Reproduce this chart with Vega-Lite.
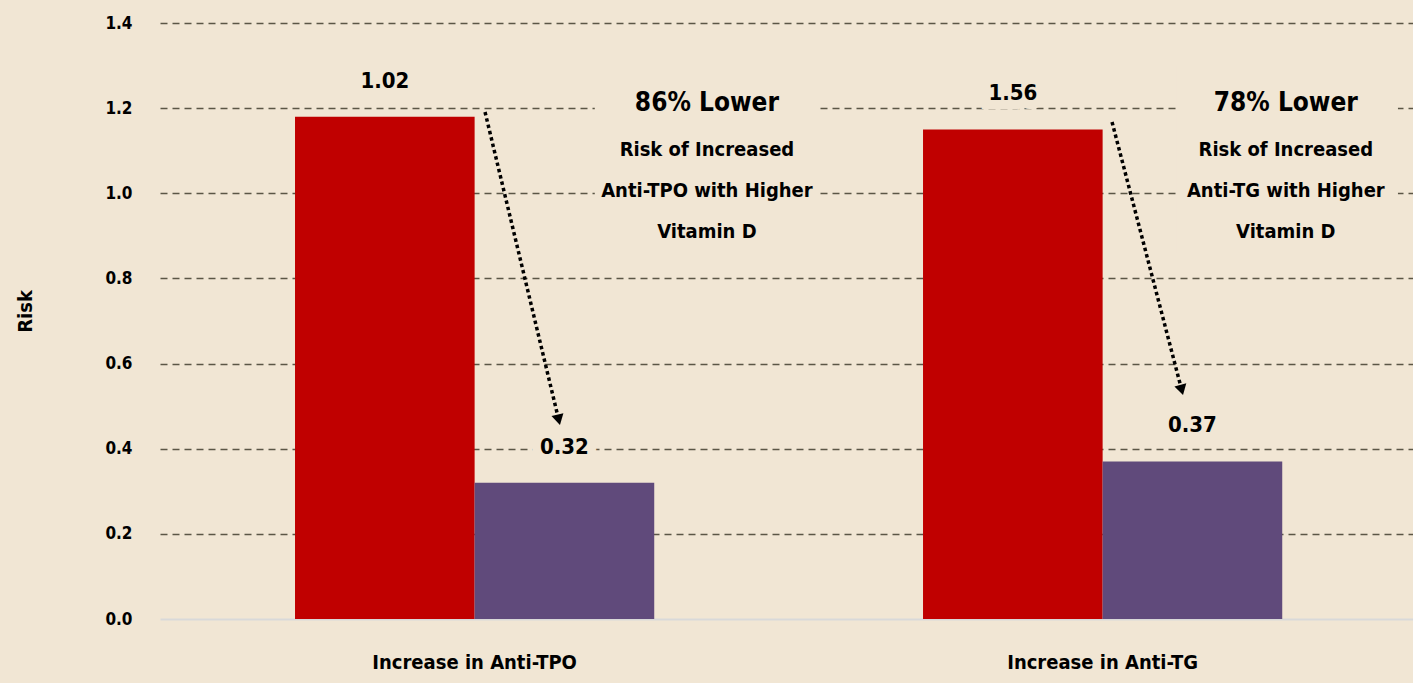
{
  "$schema": "https://vega.github.io/schema/vega-lite/v6.json",
  "width": 1253,
  "height": 596,
  "autosize": {"type": "none"},
  "padding": {"left": 160, "top": 23, "right": 0, "bottom": 64},
  "background": "#f1e6d4",
  "config": {
    "view": {"stroke": null},
    "font": "DejaVu Sans Condensed, sans-serif"
  },
  "datasets": {
    "bars": [
      {"group": "Increase in Anti-TPO", "series": "Lower vitamin D", "value": 1.18, "label": "1.02"},
      {"group": "Increase in Anti-TPO", "series": "Higher vitamin D", "value": 0.32, "label": "0.32"},
      {"group": "Increase in Anti-TG", "series": "Lower vitamin D", "value": 1.15, "label": "1.56"},
      {"group": "Increase in Anti-TG", "series": "Higher vitamin D", "value": 0.37, "label": "0.37"}
    ],
    "notes": [
      {"group": "Increase in Anti-TPO", "headline": "86% Lower", "body": "Risk of Increased\nAnti-TPO with Higher\nVitamin D"},
      {"group": "Increase in Anti-TG", "headline": "78% Lower", "body": "Risk of Increased\nAnti-TG with Higher\nVitamin D"}
    ]
  },
  "layer": [
    {
      "data": {"name": "bars"},
      "encoding": {
        "x": {
          "field": "group", "type": "nominal", "sort": null,
          "scale": {"paddingInner": 0.428, "paddingOuter": 0.2116, "align": 0.508},
          "axis": {
            "title": null, "labelAngle": 0, "labelFontSize": 20, "labelFontWeight": "bold",
            "labelColor": "#000000", "labelPadding": 33, "labelLimit": 0, "ticks": false,
            "domainColor": "#d9d9d9", "domainWidth": 2
          }
        },
        "xOffset": {"field": "series", "type": "nominal", "sort": null, "scale": {"paddingInner": 0, "paddingOuter": 0}},
        "y": {
          "field": "value", "type": "quantitative",
          "scale": {"domain": [0, 1.4], "nice": false},
          "axis": {
            "title": "Risk", "values": [0, 0.2, 0.4, 0.6, 0.8, 1.0, 1.2, 1.4], "format": ".1f",
            "labelFontSize": 17, "labelFontWeight": "bold", "labelColor": "#000000",
            "labelPadding": 28, "ticks": false, "domain": false,
            "gridColor": "#5b5646", "gridDash": [7, 5], "gridWidth": 1.5,
            "gridOpacity": {"condition": {"test": "datum.value === 0", "value": 0}, "value": 1},
            "titleFontSize": 20, "titleFontWeight": "bold", "titleColor": "#000000",
            "titleX": -125, "titleY": 288
          }
        }
      },
      "layer": [
        {
          "mark": {"type": "bar"},
          "encoding": {
            "color": {"field": "series", "type": "nominal", "sort": null, "scale": {"range": ["#c00000", "#604a7b"]}, "legend": null}
          }
        },
        {
          "mark": {"type": "text", "dy": -36, "fontSize": 22, "fontWeight": "bold", "stroke": "#f1e6d4", "strokeWidth": 18, "fill": "#f1e6d4"},
          "encoding": {"text": {"field": "label"}}
        },
        {
          "mark": {"type": "text", "dy": -36, "fontSize": 22, "fontWeight": "bold", "color": "#000000"},
          "encoding": {"text": {"field": "label"}}
        }
      ]
    },
    {
      "layer": [
        {
          "data": {"values": [{}]},
          "mark": {"type": "rect", "color": "#f1e6d4"},
          "encoding": {
            "x": {"datum": 0.694, "type": "quantitative", "scale": {"domain": [0, 2], "nice": false}, "axis": null},
            "x2": {"datum": 1.05},
            "y": {"datum": 0.86, "type": "quantitative"},
            "y2": {"datum": 1.3}
          }
        },
        {
          "data": {"values": [{}]},
          "mark": {"type": "rect", "color": "#f1e6d4"},
          "encoding": {
            "x": {"datum": 1.623, "type": "quantitative", "scale": {"domain": [0, 2], "nice": false}, "axis": null},
            "x2": {"datum": 1.976},
            "y": {"datum": 0.86, "type": "quantitative"},
            "y2": {"datum": 1.3}
          }
        },
        {
          "data": {"name": "notes"},
          "transform": [{"filter": "datum.group === 'Increase in Anti-TPO'"}],
          "mark": {"type": "text", "fontSize": 26, "fontWeight": "bold", "color": "#000000", "baseline": "middle"},
          "encoding": {
            "x": {"datum": 0.873, "type": "quantitative", "scale": {"domain": [0, 2], "nice": false}, "axis": null},
            "y": {"datum": 1.212, "type": "quantitative"},
            "text": {"field": "headline"}
          }
        },
        {
          "data": {"name": "notes"},
          "transform": [{"filter": "datum.group === 'Increase in Anti-TPO'"}],
          "mark": {"type": "text", "fontSize": 20, "fontWeight": "bold", "color": "#000000", "baseline": "middle", "lineBreak": "\n", "lineHeight": 41},
          "encoding": {
            "x": {"datum": 0.873, "type": "quantitative", "scale": {"domain": [0, 2], "nice": false}, "axis": null},
            "y": {"datum": 1.102, "type": "quantitative"},
            "text": {"field": "body"}
          }
        },
        {
          "data": {"name": "notes"},
          "transform": [{"filter": "datum.group === 'Increase in Anti-TG'"}],
          "mark": {"type": "text", "fontSize": 26, "fontWeight": "bold", "color": "#000000", "baseline": "middle"},
          "encoding": {
            "x": {"datum": 1.797, "type": "quantitative", "scale": {"domain": [0, 2], "nice": false}, "axis": null},
            "y": {"datum": 1.212, "type": "quantitative"},
            "text": {"field": "headline"}
          }
        },
        {
          "data": {"name": "notes"},
          "transform": [{"filter": "datum.group === 'Increase in Anti-TG'"}],
          "mark": {"type": "text", "fontSize": 20, "fontWeight": "bold", "color": "#000000", "baseline": "middle", "lineBreak": "\n", "lineHeight": 41},
          "encoding": {
            "x": {"datum": 1.797, "type": "quantitative", "scale": {"domain": [0, 2], "nice": false}, "axis": null},
            "y": {"datum": 1.102, "type": "quantitative"},
            "text": {"field": "body"}
          }
        },
        {
          "data": {"values": [{}]},
          "mark": {"type": "rule", "color": "#000000", "strokeWidth": 3.5, "strokeDash": [3.5, 3]},
          "encoding": {
            "x": {"datum": 0.5188, "type": "quantitative", "scale": {"domain": [0, 2], "nice": false}, "axis": null},
            "y": {"datum": 1.191, "type": "quantitative"},
            "x2": {"datum": 0.6364},
            "y2": {"datum": 0.468}
          }
        },
        {
          "data": {"values": [{}]},
          "mark": {"type": "point", "shape": "triangle-down", "filled": true, "opacity": 1, "color": "#000000", "size": 150, "angle": -13.7},
          "encoding": {
            "x": {"datum": 0.6364, "type": "quantitative", "scale": {"domain": [0, 2], "nice": false}, "axis": null},
            "y": {"datum": 0.468, "type": "quantitative"}
          }
        },
        {
          "data": {"values": [{}]},
          "mark": {"type": "rule", "color": "#000000", "strokeWidth": 3.5, "strokeDash": [3.5, 3]},
          "encoding": {
            "x": {"datum": 1.5196, "type": "quantitative", "scale": {"domain": [0, 2], "nice": false}, "axis": null},
            "y": {"datum": 1.1675, "type": "quantitative"},
            "x2": {"datum": 1.6308},
            "y2": {"datum": 0.538}
          }
        },
        {
          "data": {"values": [{}]},
          "mark": {"type": "point", "shape": "triangle-down", "filled": true, "opacity": 1, "color": "#000000", "size": 150, "angle": -14.6},
          "encoding": {
            "x": {"datum": 1.6308, "type": "quantitative", "scale": {"domain": [0, 2], "nice": false}, "axis": null},
            "y": {"datum": 0.538, "type": "quantitative"}
          }
        }
      ]
    }
  ],
  "resolve": {"scale": {"x": "independent"}, "axis": {"x": "independent"}}
}
